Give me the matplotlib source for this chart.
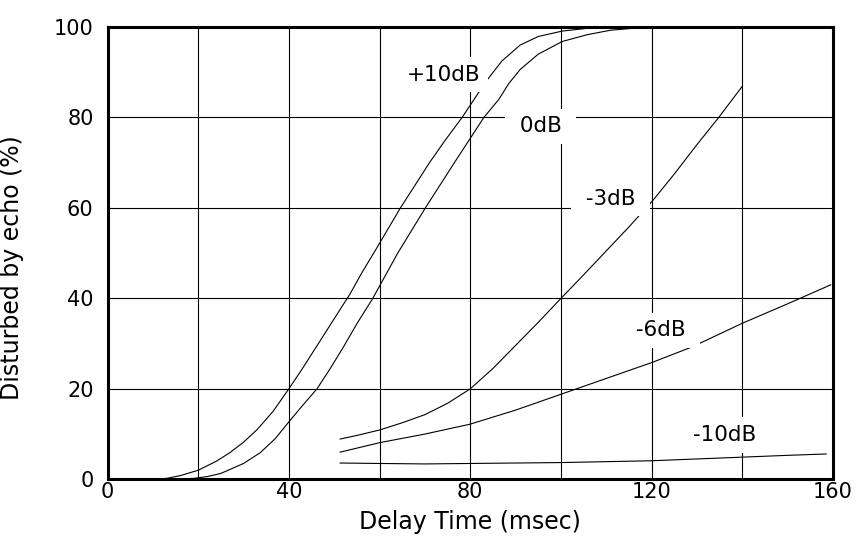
import numpy as np
import matplotlib.pyplot as plt
from matplotlib.ticker import MultipleLocator

# values (delay in msec, % disturbed)
x_p10 = [0, 10, 13, 16, 20, 24, 27, 30, 33, 36.5, 40, 43, 46.5, 50, 53.5, 56, 59, 64.6, 68, 71,
         74.5, 78.2, 83.5, 87, 91, 95, 100.3, 105.8, 115]
y_p10 = [0, 0.05, 0.2, 0.8, 2.0, 4.0, 5.9, 8.2, 11, 15, 20, 24.5, 30, 35.5, 41, 45.5, 50.5, 60,
         65.3, 70, 75, 80, 88, 92.5, 96.0, 97.9, 99.1, 99.7, 100]

x_0 = [0, 15, 19, 22, 25, 30, 33.7, 37, 40, 43, 46.2, 49, 52, 55, 58.5, 64, 70.1, 76.5, 83,
       86.3, 88.5, 91, 95, 100.3, 105.8, 111, 117]
y_0 = [0, 0.05, 0.2, 0.6, 1.3, 3.5, 5.9, 9.0, 12.7, 16.3, 20, 24.3, 29.2, 34.4, 40, 50, 60, 70,
       80, 84, 87.5, 90.6, 94.0, 96.8, 98.3, 99.3, 99.8]

x_m3 = [51.3, 55, 60, 65, 70, 75, 80, 85, 90, 95, 100, 105, 110, 115, 120.4, 125, 130,
        134.8, 140]
y_m3 = [8.9, 9.7, 10.9, 12.5, 14.3, 16.8, 20, 24.5, 29.6, 34.7, 40, 45.2, 50.5, 55.8,
        61.8, 67.5, 74, 80, 86.9]

x_m6 = [51.3, 60, 70, 80, 90, 100, 110, 120, 129, 140, 150, 159.5]
y_m6 = [6.0, 8.1, 10.0, 12.2, 15.3, 18.8, 22.3, 25.8, 29.3, 34.5, 38.8, 43]

x_m10 = [51.3, 60, 70, 80, 90, 100, 110, 120, 130, 140, 150, 158.5]
y_m10 = [3.6, 3.5, 3.4, 3.5, 3.6, 3.7, 3.9, 4.1, 4.5, 4.9, 5.3, 5.6]

labels = ["+10dB", " 0dB ", " -3dB ", " -6dB ", "-10dB"]
label_x = [74.1, 95.5, 110.9, 122.0, 136.2]
label_y = [89.4, 78.1, 62.0, 33.0, 9.8]

plt.rcParams["font.family"] = "DejaVu Sans"

fig = plt.figure(figsize=(8.6, 5.4), dpi=100)
ax = fig.add_axes([0.125, 0.1124, 0.8436, 0.8376])

for xs, ys in [(x_p10, y_p10), (x_0, y_0), (x_m3, y_m3), (x_m6, y_m6), (x_m10, y_m10)]:
    ax.plot(xs, ys, color="black", linewidth=0.8, zorder=3)

for txt, tx, ty in zip(labels, label_x, label_y):
    ax.text(tx, ty, txt, ha="center", va="center", fontsize=15.5, zorder=4,
            bbox=dict(boxstyle="square,pad=0.35", facecolor="white", edgecolor="none"))

ax.set_xlim(0, 160)
ax.set_ylim(0, 100)
ax.xaxis.set_major_locator(MultipleLocator(40))
ax.xaxis.set_minor_locator(MultipleLocator(20))
ax.yaxis.set_major_locator(MultipleLocator(20))
ax.grid(True, which="both", color="black", linewidth=0.8, zorder=1)
ax.set_axisbelow(True)

ax.tick_params(which="both", length=0)
ax.tick_params(axis="x", pad=2, labelsize=15)
ax.tick_params(axis="y", pad=10, labelsize=15)

for s in ax.spines.values():
    s.set_linewidth(2.2)
    s.set_zorder(5)

ax.set_xlabel("Delay Time (msec)", fontsize=17)
ax.xaxis.set_label_coords(0.5, -0.068)
ax.set_ylabel("Disturbed by echo (%)", fontsize=17)
ax.yaxis.set_label_coords(-0.115, 0.469)

fig.savefig("out.png", dpi=100)
